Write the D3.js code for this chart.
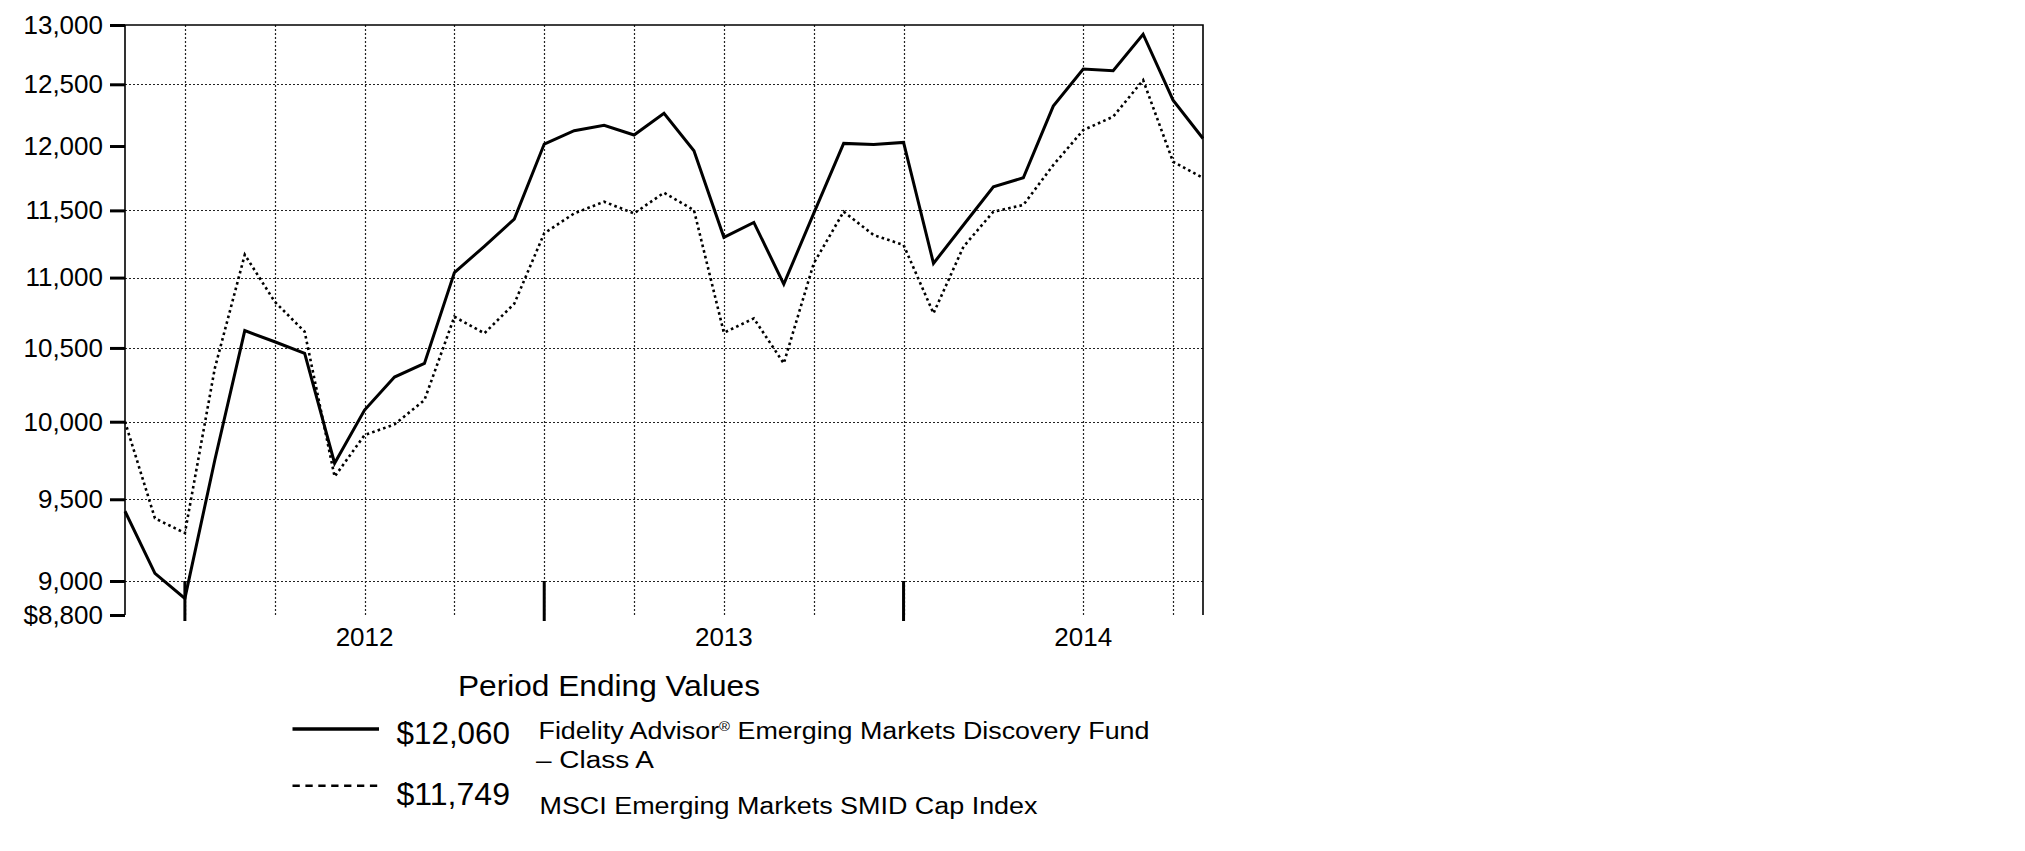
<!DOCTYPE html>
<html>
<head>
<meta charset="utf-8">
<script src="https://cdn.jsdelivr.net/npm/d3@7"></script>
<style>
  html, body { margin: 0; padding: 0; background: #ffffff; }
  svg { display: block; font-family: "Liberation Sans", Arial, Helvetica, sans-serif; }
</style>
</head>
<body>
<svg id="chart" width="2025" height="851"></svg>
<script>
// ---------- data ----------
const months = [
  "Oct 2011","Nov 2011","Dec 2011",
  "Jan 2012","Feb 2012","Mar 2012","Apr 2012","May 2012","Jun 2012","Jul 2012","Aug 2012","Sep 2012","Oct 2012","Nov 2012","Dec 2012",
  "Jan 2013","Feb 2013","Mar 2013","Apr 2013","May 2013","Jun 2013","Jul 2013","Aug 2013","Sep 2013","Oct 2013","Nov 2013","Dec 2013",
  "Jan 2014","Feb 2014","Mar 2014","Apr 2014","May 2014","Jun 2014","Jul 2014","Aug 2014","Sep 2014","Oct 2014"
];
const fundValues = [
  9425, 9046, 8897, 9750, 10621, 10543, 10463, 9729, 10077, 10300, 10393, 11036, 11230,
  11434, 12016, 12122, 12165, 12088, 12263, 11963, 11297, 11409, 10953, 11477, 12021,
  12013, 12029, 11104, 11389, 11681, 11751, 12321, 12627, 12612, 12921, 12370, 12060
];
const indexValues = [
  10000, 9381, 9290, 10360, 11168, 10826, 10613, 9643, 9912, 9982, 10144, 10719, 10602,
  10812, 11327, 11477, 11566, 11477, 11635, 11502, 10606, 10707, 10393, 11104, 11490,
  11314, 11240, 10743, 11227, 11490, 11541, 11850, 12127, 12235, 12535, 11876, 11749
];
const yTickValues = [8800, 9000, 9500, 10000, 10500, 11000, 11500, 12000, 12500, 13000];
const yTickLabels = ["$8,800", "9,000", "9,500", "10,000", "10,500", "11,000", "11,500", "12,000", "12,500", "13,000"];
const hGridValues = [9000, 9500, 10000, 10500, 11000, 11500, 12500];
const vGridMonths = ["Dec 2011","Mar 2012","Jun 2012","Sep 2012","Dec 2012","Mar 2013","Jun 2013","Sep 2013","Dec 2013","Jun 2014","Sep 2014"];
const yearTickMonths = ["Dec 2011","Dec 2012","Dec 2013"];
const yearLabels = ["2012", "2013", "2014"];
const yearLabelMonths = ["Jun 2012", "Jun 2013", "Jun 2014"];
const legendTitle = "Period Ending Values";
const legendValues = ["$12,060", "$11,749"];
const legendNames = ["Fidelity Advisor", "\u00AE", " Emerging Markets Discovery Fund", "\u2013 Class A", "MSCI Emerging Markets SMID Cap Index"];

// ---------- layout ----------
const plotL = 125, plotR = 1203, plotT = 25, plotB = 615;
const svg = d3.select("#chart");

const x = d3.scalePoint().domain(months).range([plotL, plotR]).padding(0);
const y = d3.scaleLog().domain([8800, 13000]).range([plotB, plotT]);

// gridlines
const grid = svg.append("g").attr("stroke", "#222").attr("stroke-width", 1.2).attr("stroke-dasharray", "2,2");
grid.selectAll("line.h").data(hGridValues).join("line").attr("class", "h")
  .attr("x1", plotL).attr("x2", plotR)
  .attr("y1", d => Math.round(y(d)) + 0.5).attr("y2", d => Math.round(y(d)) + 0.5);
grid.selectAll("line.v").data(vGridMonths).join("line").attr("class", "v")
  .attr("x1", d => Math.round(x(d)) + 0.5).attr("x2", d => Math.round(x(d)) + 0.5)
  .attr("y1", plotT).attr("y2", plotB + 1);

// frame
svg.append("path")
  .attr("d", `M${plotL},${plotB} V${plotT} H${plotR} V${plotB}`)
  .attr("fill", "none").attr("stroke", "#000").attr("stroke-width", 1.6);

// y axis
const yAxis = d3.axisLeft(y)
  .tickValues(yTickValues)
  .tickFormat((d, i) => yTickLabels[i])
  .tickSize(15).tickPadding(7);
const gy = svg.append("g").attr("transform", `translate(${plotL},0)`).call(yAxis);
gy.select(".domain").remove();
gy.selectAll(".tick line").attr("stroke", "#000").attr("stroke-width", 3);
gy.selectAll(".tick text").attr("fill", "#000").style("font-size", "26px")
  .style("font-family", "'Liberation Sans', Arial, sans-serif");

// year ticks
svg.append("g").selectAll("line").data(yearTickMonths).join("line")
  .attr("x1", d => x(d)).attr("x2", d => x(d))
  .attr("y1", y(9000)).attr("y2", plotB + 6)
  .attr("stroke", "#000").attr("stroke-width", 3);

// year labels
svg.append("g").selectAll("text").data(yearLabels).join("text")
  .attr("x", (d, i) => x(yearLabelMonths[i]))
  .attr("y", 646)
  .attr("text-anchor", "middle")
  .style("font-size", "26px")
  .text(d => d);

// lines
const line = d3.line().x((d, i) => x(months[i])).y(d => y(d));
svg.append("path").datum(indexValues)
  .attr("d", line).attr("fill", "none")
  .attr("stroke", "#000").attr("stroke-width", 2.6)
  .attr("stroke-dasharray", "2.6,3.2");
svg.append("path").datum(fundValues)
  .attr("d", line).attr("fill", "none")
  .attr("stroke", "#000").attr("stroke-width", 3)
  .attr("stroke-linejoin", "miter");

// legend
const lg = svg.append("g");
lg.append("text").attr("x", 458).attr("y", 695.5)
  .attr("textLength", 302).attr("lengthAdjust", "spacingAndGlyphs")
  .style("font-size", "29px").text(legendTitle);

lg.append("line").attr("x1", 292.5).attr("x2", 379).attr("y1", 729).attr("y2", 729)
  .attr("stroke", "#000").attr("stroke-width", 3.3);
lg.append("line").attr("x1", 292.5).attr("x2", 379).attr("y1", 785.7).attr("y2", 785.7)
  .attr("stroke", "#000").attr("stroke-width", 2.6).attr("stroke-dasharray", "7.3,5.6");

lg.append("text").attr("x", 396.5).attr("y", 744.3)
  .attr("textLength", 113.5).attr("lengthAdjust", "spacingAndGlyphs")
  .style("font-size", "31.5px").text(legendValues[0]);
lg.append("text").attr("x", 396.5).attr("y", 805)
  .attr("textLength", 113.5).attr("lengthAdjust", "spacingAndGlyphs")
  .style("font-size", "31.5px").text(legendValues[1]);

const t1 = lg.append("text").attr("x", 538.5).attr("y", 738.5)
  .attr("textLength", 611).attr("lengthAdjust", "spacingAndGlyphs")
  .style("font-size", "23.5px");
t1.append("tspan").text(legendNames[0]);
t1.append("tspan").attr("dy", -8).style("font-size", "13px").text(legendNames[1]);
t1.append("tspan").attr("dy", 8).text(legendNames[2]);

lg.append("text").attr("x", 536).attr("y", 767.7)
  .attr("textLength", 118).attr("lengthAdjust", "spacingAndGlyphs")
  .style("font-size", "23.5px").text(legendNames[3]);
lg.append("text").attr("x", 539.5).attr("y", 814)
  .attr("textLength", 498).attr("lengthAdjust", "spacingAndGlyphs")
  .style("font-size", "23.5px").text(legendNames[4]);
</script>
</body>
</html>
